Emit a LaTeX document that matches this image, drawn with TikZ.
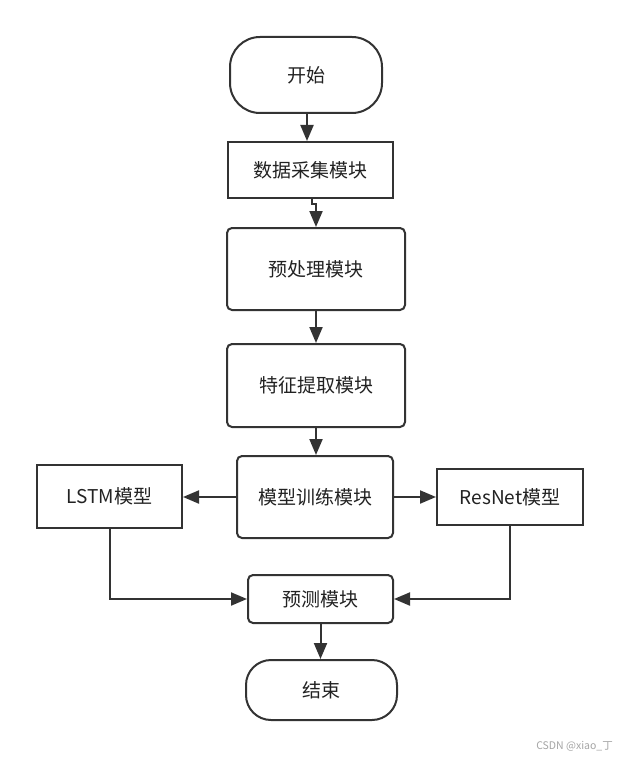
\documentclass[tikz,border=0pt]{standalone}
\usepackage{fontspec}
\setmainfont{Noto Sans CJK SC}
\usetikzlibrary{arrows.meta}
\definecolor{ln}{RGB}{51,51,51}
\definecolor{tx}{RGB}{34,34,34}
\definecolor{wm}{RGB}{165,165,165}
\begin{document}
\begin{tikzpicture}[x=1pt,y=-1pt,
  box/.style={draw=ln,line width=2pt,fill=white,text=tx,font=\fontsize{19}{21}\selectfont,inner sep=0pt},
  sharpbox/.style={box},
  roundbox/.style={box,rounded corners=5pt},
  arr/.style={draw=ln,line width=2pt,-{Triangle[length=16pt,width=13pt]}}]
\useasboundingbox (0,0) rectangle (619,757);
\fill[white] (0,0) rectangle (619,757);
\node[box,rounded corners=30pt,minimum width=152pt,minimum height=76pt] (start) at (306,75) {开始};
\node[sharpbox,minimum width=165pt,minimum height=56pt] (collect) at (310.5,170) {数据采集模块};
\node[roundbox,minimum width=178pt,minimum height=82pt] (pre) at (316,269) {预处理模块};
\node[roundbox,minimum width=178pt,minimum height=83pt] (feat) at (316,385.5) {特征提取模块};
\node[roundbox,minimum width=156pt,minimum height=82pt] (train) at (315,497) {模型训练模块};
\node[sharpbox,minimum width=145pt,minimum height=63pt] (lstm) at (109.5,496.5) {LSTM模型};
\node[sharpbox,minimum width=146pt,minimum height=56pt] (resnet) at (510,497) {ResNet模型};
\node[roundbox,minimum width=145pt,minimum height=48pt] (pred) at (320.5,599) {预测模块};
\node[box,rounded corners=25pt,minimum width=151pt,minimum height=60pt] (end) at (321.5,690) {结束};
\node[text=wm,font=\fontsize{10.5}{12}\selectfont,anchor=east,inner sep=0pt] (wmark) at (613,746) {CSDN @xiao\_丁};
\draw[arr] ([xshift=1pt]start.south) -- ([xshift=1pt]start.south |- collect.north);
\draw[arr] ([xshift=1.5pt]collect.south) -- ++(0,5) -| (pre.north);
\draw[arr] (pre.south) -- (feat.north);
\draw[arr] (feat.south) -- (feat.south |- train.north);
\draw[arr] (train.west) -- (lstm.east |- train.west);
\draw[arr] (train.east) -- (resnet.west |- train.east);
\draw[arr] (lstm.south) |- (pred.west);
\draw[arr] (resnet.south) |- (pred.east);
\draw[arr] (pred.south) -- (pred.south |- end.north);
\end{tikzpicture}
\end{document}
